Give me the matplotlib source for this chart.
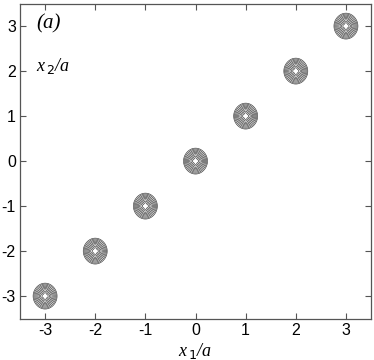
import numpy as np
import matplotlib
matplotlib.use("Agg")
import matplotlib.pyplot as plt

# Blob centres (x1/a, x2/a)
centers_x1 = [-3, -2, -1, 0, 1, 2, 3]
centers_x2 = [-3, -2, -1, 0, 1, 2, 3]
# Contour levels (normalised radius of each ring)
levels = [0.22, 0.33, 0.43, 0.53, 0.62, 0.71, 0.80, 0.89, 0.97]
ticks = [-3, -2, -1, 0, 1, 2, 3]
blob_rx = 0.245
blob_ry = 0.295

fig = plt.figure(figsize=(3.74, 3.60), dpi=100)
ax = fig.add_axes([0.0535, 0.115, 0.9385, 0.875])

x = np.linspace(-3.5, 3.5, 1400)
y = np.linspace(-3.5, 3.5, 1400)
X, Y = np.meshgrid(x, y)
F = np.full_like(X, 10.0)
for cx, cy in zip(centers_x1, centers_x2):
    u = (X - cx) / blob_rx
    v = (Y - cy) / blob_ry
    r = np.sqrt(u**2 + v**2)
    th = np.arctan2(v, u)
    f = r * (1 - 0.18 * np.clip(1 - r, 0, 1) * np.cos(4 * th))
    F = np.minimum(F, f)

ax.contour(X, Y, F, levels=levels, colors="#333333", linewidths=0.45)

ax.set_xlim(-3.5, 3.5)
ax.set_ylim(-3.5, 3.5)
ax.set_xticks(ticks)
ax.set_yticks(ticks)
ax.set_xticklabels(["-%d" % -t if t < 0 else "%d" % t for t in ticks])
ax.set_yticklabels(["-%d" % -t if t < 0 else "%d" % t for t in ticks])
ax.tick_params(direction="in", length=4, width=0.8, top=True, right=True,
               labelsize=11.5, colors="#555555", labelcolor="black", pad=3)
for lab in ax.get_xticklabels() + ax.get_yticklabels():
    lab.set_family("Liberation Sans")
for s in ax.spines.values():
    s.set_color("#555555")
    s.set_linewidth(0.9)

serif = {"family": "Liberation Serif", "style": "italic"}
ax.text(0.045, 0.965, "(a)", transform=ax.transAxes, fontsize=15,
        va="top", ha="left", **serif)
ax.text(0.045, 0.835, r"x$_{\,2}$/a", transform=ax.transAxes, fontsize=13,
        va="top", ha="left", **serif)
ax.set_xlabel(r"x$_{\,1}$/a", fontsize=13, labelpad=2, **serif)

fig.savefig("out.png", dpi=100)
